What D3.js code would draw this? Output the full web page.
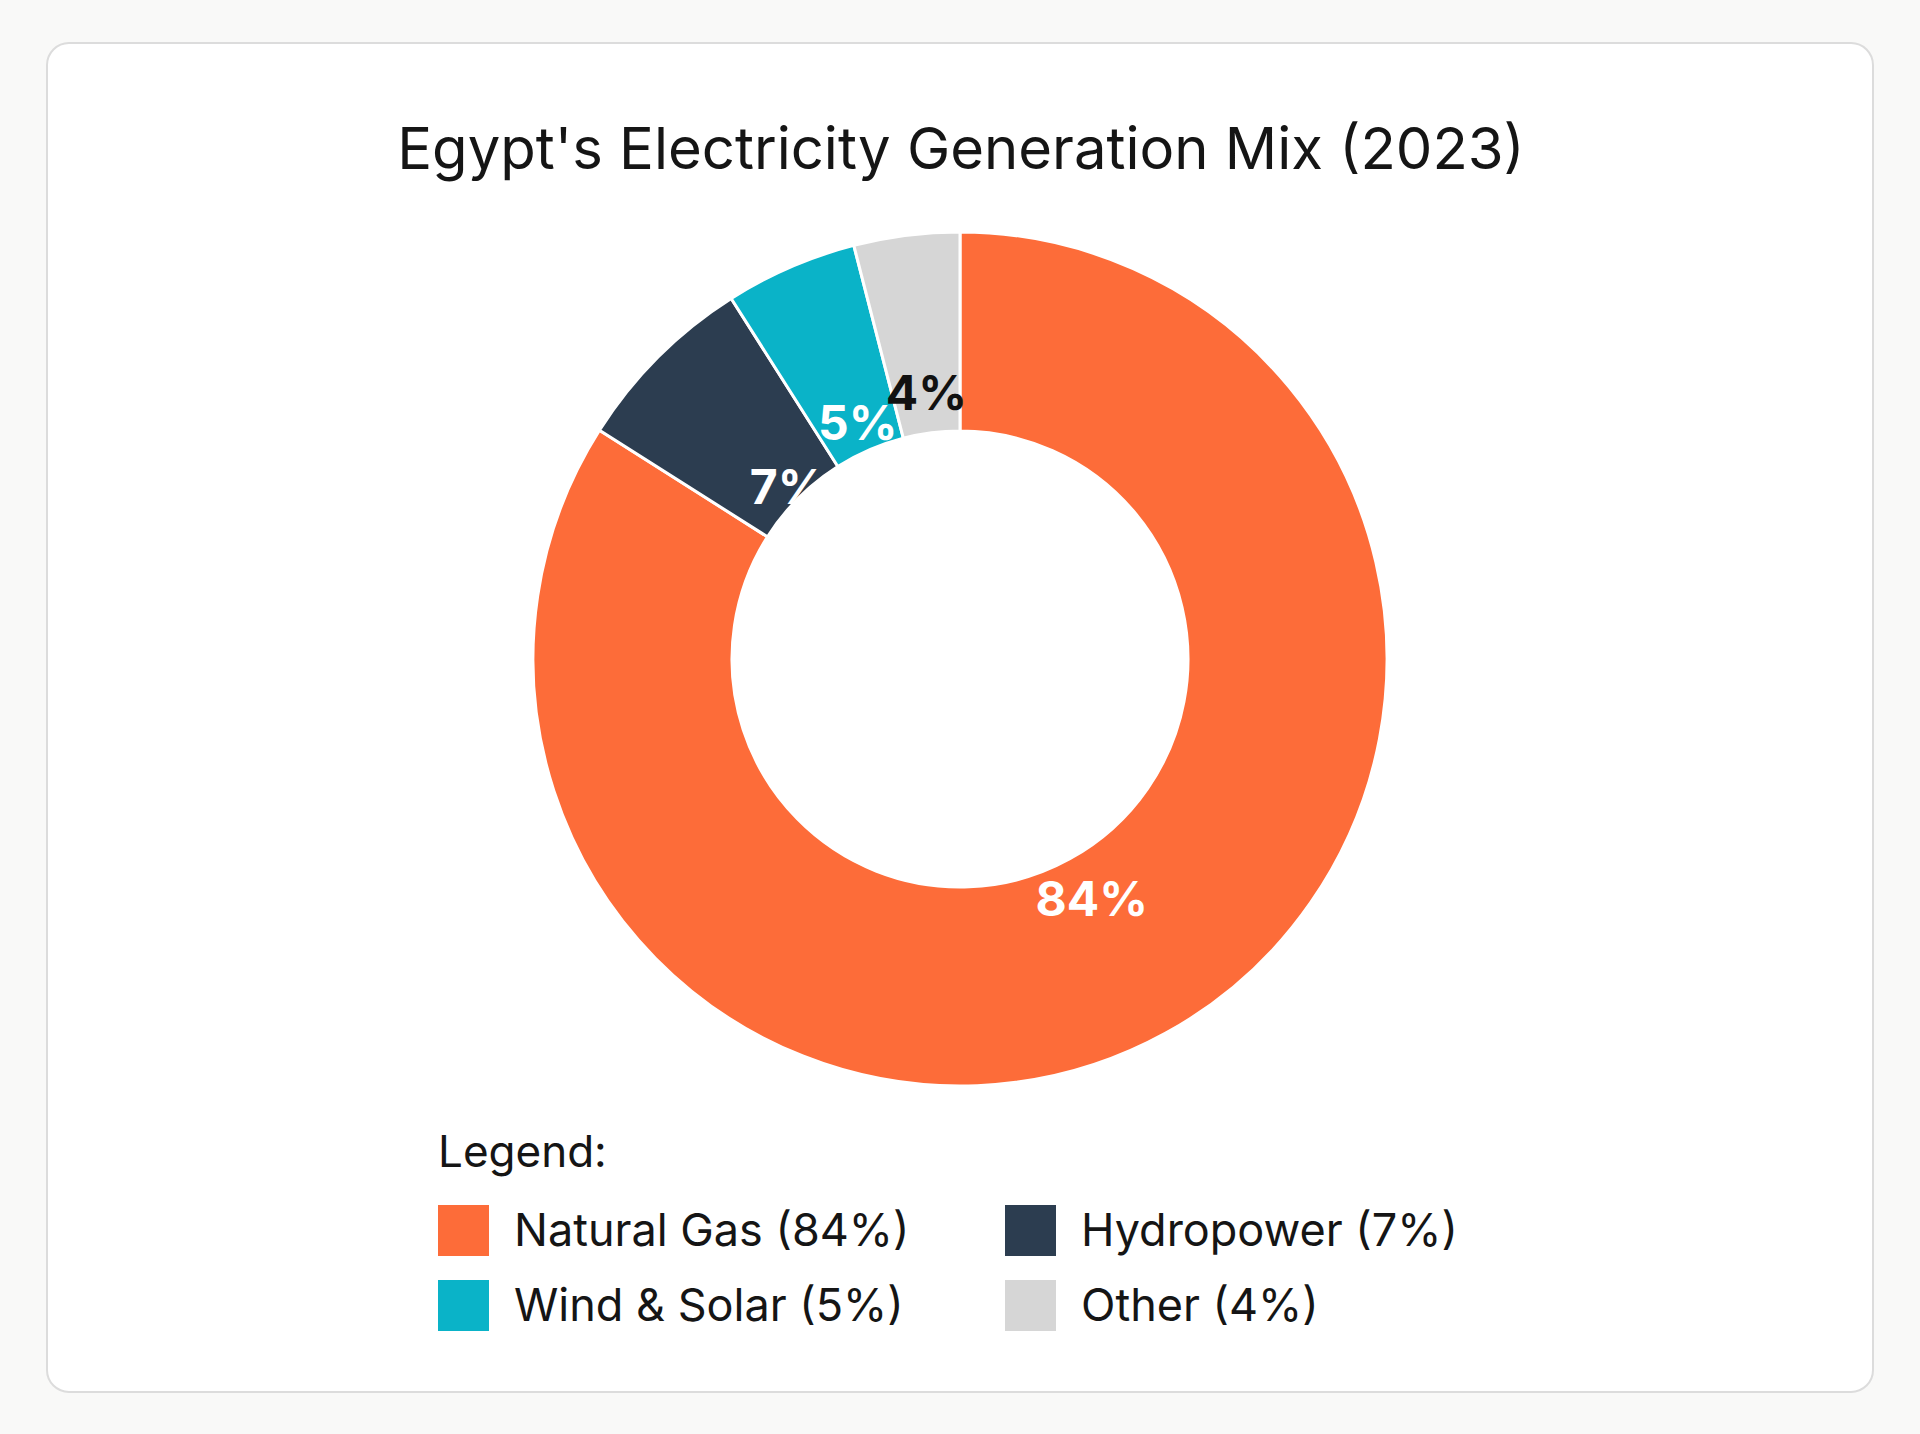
<!DOCTYPE html>
<html><head><meta charset="utf-8">
<script src="https://cdn.jsdelivr.net/npm/d3@7"></script>
<style>html,body{margin:0;padding:0;background:#f9f9f8;}svg{display:block;font-family:Inter,"Noto Sans",sans-serif;}</style>
</head><body>
<svg id="c" width="1920" height="1434"></svg>
<script>
const categories = ["Natural Gas","Hydropower","Wind & Solar","Other"];
const values = [84,7,5,4];
const colors = ["#FD6C39","#2C3D50","#0AB3C8","#D6D6D6"];
const labelColors = ["#ffffff","#ffffff","#ffffff","#111111"];
const title = "Egypt's Electricity Generation Mix (2023)";

const svg = d3.select("#c");
svg.append("rect").attr("x",47).attr("y",43).attr("width",1826).attr("height",1349)
  .attr("rx",22).attr("fill","#ffffff").attr("stroke","#dcdcdc").attr("stroke-width",2);
svg.append("text").attr("x",961).attr("y",169).attr("text-anchor","middle")
  .attr("font-size",58).attr("fill","#151515").text(title);

const cx=960, cy=659, R=427, r=228;
const data = categories.map((c,i)=>({c, v:values[i], i}));
const pie = d3.pie().value(d=>d.v).sort(null);
const arcs = pie(data);
const arc = d3.arc().innerRadius(r).outerRadius(R);
const g = svg.append("g").attr("transform",`translate(${cx},${cy})`);
g.selectAll("path").data(arcs).join("path").attr("d",arc)
  .attr("fill",d=>colors[d.data.i]).attr("stroke","#fff").attr("stroke-width",3);
const labelR = [R*0.89, (R+r)/2+10, (R+r)/2+30, (R+r)/2+45];
const lab = d3.arc();
g.selectAll("text").data(arcs).join("text")
  .attr("transform",(d,k)=>{const p=d3.arc().innerRadius(labelR[k]*0.72).outerRadius(labelR[k]*0.72).centroid(d);return `translate(${p})`;})
  .attr("text-anchor","middle").attr("dy","0.36em").attr("font-size",48).attr("font-weight",700)
  .attr("fill",d=>labelColors[d.data.i]).text(d=>d.data.v+"%");

svg.append("text").attr("x",438).attr("y",1167).attr("font-size",44).attr("fill","#151515").text("Legend:");
const lx=[438,1005], ly=[1205,1280];
const lg = svg.append("g");
data.forEach((d,i)=>{
  const x=lx[i%2], y=ly[Math.floor(i/2)];
  lg.append("rect").attr("x",x).attr("y",y).attr("width",51).attr("height",51).attr("fill",colors[i]);
  lg.append("text").attr("x",x+76).attr("y",y+41).attr("font-size",45).attr("fill","#151515")
    .text(`${d.c} (${d.v}%)`);
});
</script>
</body></html>
